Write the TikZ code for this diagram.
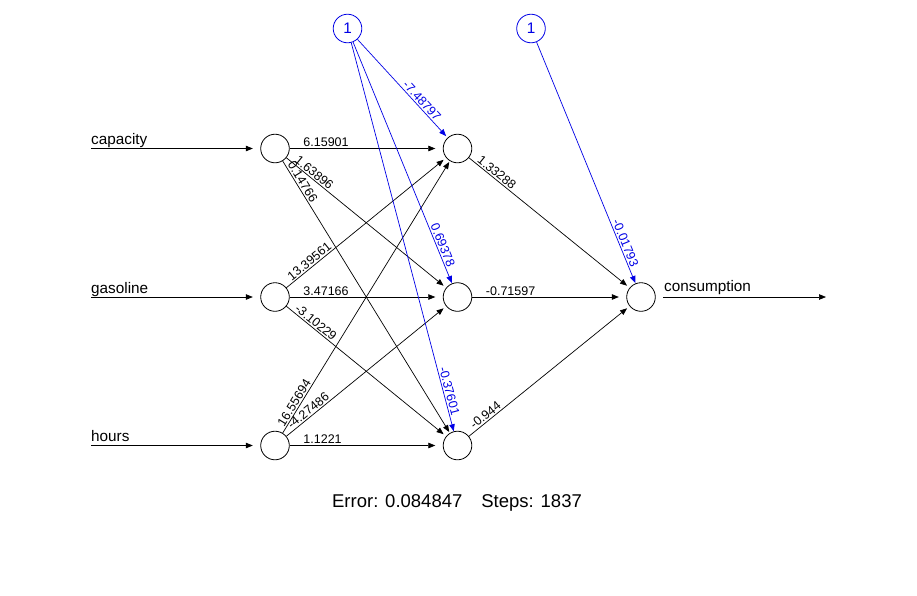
\documentclass[tikz,border=0pt]{standalone}
\usepackage{fontspec}
\setmainfont{Liberation Sans}
\usetikzlibrary{calc,arrows.meta,shapes.geometric}
\definecolor{bcol}{RGB}{0,0,230}
\newcommand\wtin[5]{%
  \path (#2) -- (#3) coordinate[pos=0] (tmpA);
  \path let \p1=($(#3)-(#1)$), \n1={atan2(\y1,\x1)} in ($(#1)!1.25!(tmpA)$) node[wtl,rotate=\n1] (#5) {#4};}
\newcommand\wtbias[5]{%
  \path (#3) -- (#1) coordinate[pos=0] (tmpB);
  \path let \p1=($(#2)-(#1)$), \n1={atan2(\y1,\x1)} in ($(#2)!2!(tmpB)$) node[wtb,rotate=\n1] (#5) {#4};}
\begin{document}
\begin{tikzpicture}[x=1pt,y=-1pt,
  neuron/.style={circle,draw=black,line width=0.8pt,minimum size=28.6pt,inner sep=0pt},
  ghost/.style={ellipse,draw=none,minimum width=44pt,minimum height=28.6pt,inner sep=0pt},
  syn/.style={line width=0.7pt,-{Triangle[length=7pt,width=5.5pt]}},
  lab/.style={font=\fontsize{15.3}{18}\selectfont,inner sep=0pt},
  wtl/.style={font=\fontsize{12.5}{14}\selectfont,inner xsep=0.5pt,inner ysep=1.5pt,anchor=south west},
  wtb/.style={wtl,anchor=south east,text=bcol}]
\fill[white] (0,0) rectangle (917,595);
\useasboundingbox (0,0) rectangle (917,595);
% neurons
\foreach \n/\x/\y in {i1/275/148.5,i2/275/297,i3/275/445.5,h1/457.5/148.5,h2/457.5/297,h3/457.5/445.5,o/641/297}{
  \node[neuron] (\n) at (\x,\y) {};
  \node[ghost] (\n e) at (\x,\y) {};
}
\node[neuron,lab,draw=bcol,text=bcol,line width=0.8pt] (b1) at (347.5,28.5) {1};
\node[neuron,lab,draw=bcol,text=bcol,line width=0.8pt] (b2) at (531,28.5) {1};
% input arrows
\coordinate (c1) at (91,148.5);
\coordinate (c2) at (91,297);
\coordinate (c3) at (91,445.5);
\draw[syn] (c1) -- (i1e);
\draw[syn] (c2) -- (i2e);
\draw[syn] (c3) -- (i3e);
\node[lab,anchor=base west] (l1) at (91,144.5) {capacity};
\node[lab,anchor=base west] (l2) at (91,293) {gasoline};
\node[lab,anchor=base west] (l3) at (91,441.5) {hours};
% output arrow
\coordinate (cout) at (826,297);
\draw[syn] (oe) -- (cout);
\node[lab,anchor=base west] (lo) at (664,291) {consumption};
% synapses input -> hidden
\foreach \s in {i1,i2,i3}{
  \foreach \t in {h1,h2,h3}{
    \draw[syn] (\s) -- (\t e);
  }
}
\foreach \t in {h1,h2,h3}{
  \draw[syn,bcol] (b1) -- (\t e);
  \draw[syn] (\t) -- (oe);
}
\draw[syn,bcol] (b2) -- (oe);
% weights
\wtin{i1}{i1e}{h1}{6.15901}{w11}
\wtin{i1}{i1e}{h2}{1.63896}{w12}
\wtin{i1}{i1e}{h3}{0.14766}{w13}
\wtin{i2}{i2e}{h1}{13.39561}{w21}
\wtin{i2}{i2e}{h2}{3.47166}{w22}
\wtin{i2}{i2e}{h3}{-3.10229}{w23}
\wtin{i3}{i3e}{h1}{16.55694}{w31}
\wtin{i3}{i3e}{h2}{-4.27486}{w32}
\wtin{i3}{i3e}{h3}{1.1221}{w33}
\wtin{h1}{h1e}{o}{1.33288}{v1}
\wtin{h2}{h2e}{o}{-0.71597}{v2}
\wtin{h3}{h3e}{o}{-0.944}{v3}
\wtbias{b1}{h1}{h1e}{-7.48797}{bw1}
\wtbias{b1}{h2}{h2e}{0.69378}{bw2}
\wtbias{b1}{h3}{h3e}{-0.37601}{bw3}
\wtbias{b2}{o}{oe}{-0.01793}{bv}
% info
\node[font=\fontsize{18.5}{22}\selectfont,anchor=base,inner sep=0pt] (err) at (457,507) {Error: 0.084847\hspace{19pt}Steps: 1837};
\end{tikzpicture}
\end{document}
